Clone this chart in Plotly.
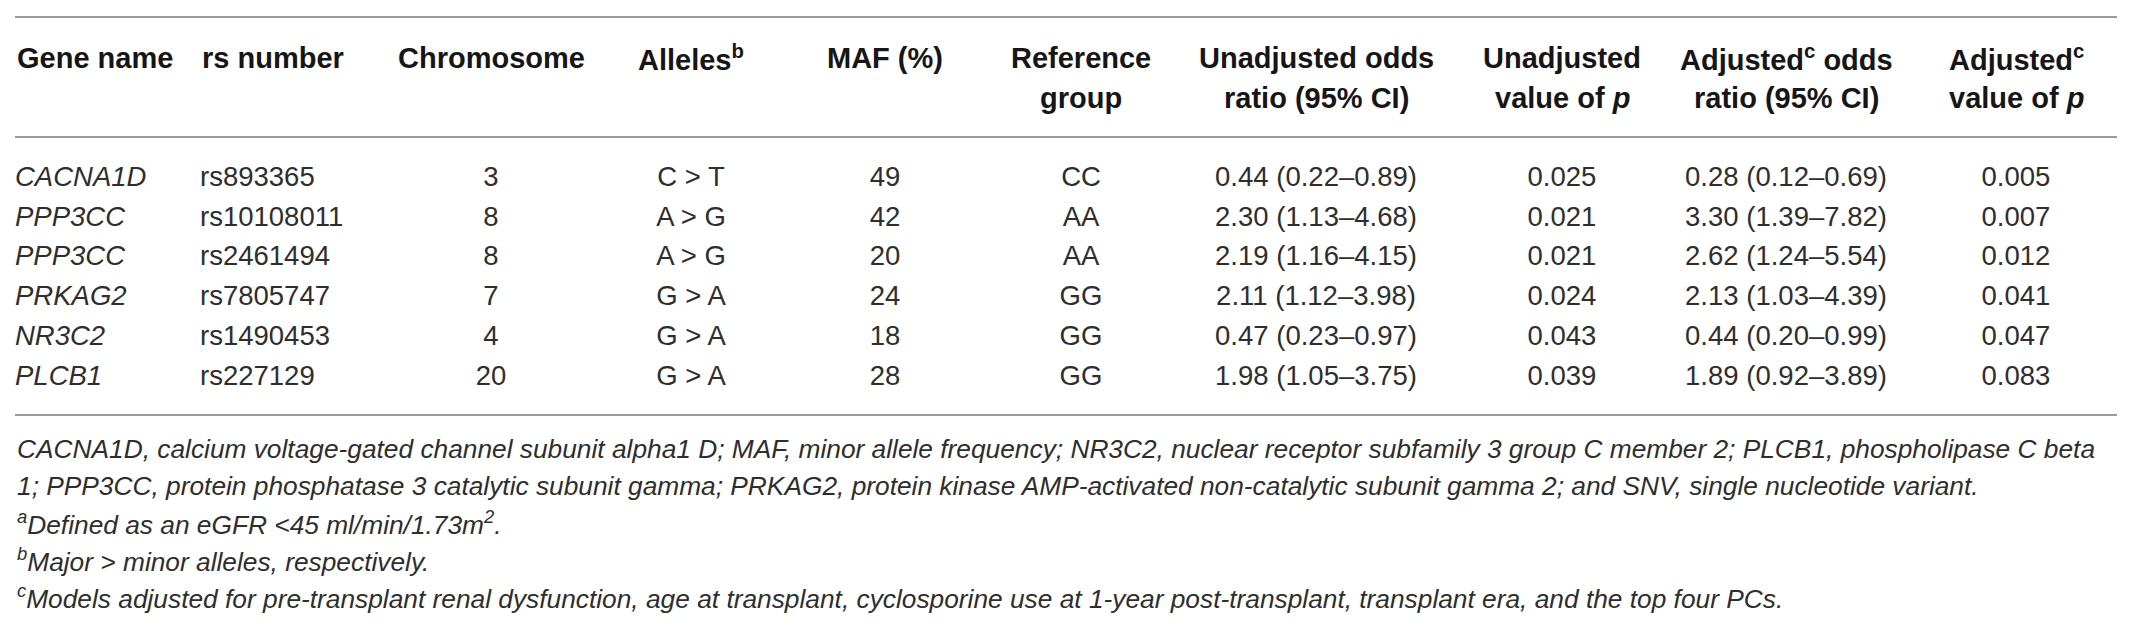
import plotly.graph_objects as go

# ---------------- data ----------------
genes = ["CACNA1D", "PPP3CC", "PPP3CC", "PRKAG2", "NR3C2", "PLCB1"]
rs_numbers = ["rs893365", "rs10108011", "rs2461494", "rs7805747", "rs1490453", "rs227129"]
chromosomes = [3, 8, 8, 7, 4, 20]
alleles = ["C > T", "A > G", "A > G", "G > A", "G > A", "G > A"]
maf_pct = [49, 42, 20, 24, 18, 28]
reference_group = ["CC", "AA", "AA", "GG", "GG", "GG"]
unadj_or = [0.44, 2.30, 2.19, 2.11, 0.47, 1.98]
unadj_lo = [0.22, 1.13, 1.16, 1.12, 0.23, 1.05]
unadj_hi = [0.89, 4.68, 4.15, 3.98, 0.97, 3.75]
unadj_p = [0.025, 0.021, 0.021, 0.024, 0.043, 0.039]
adj_or = [0.28, 3.30, 2.62, 2.13, 0.44, 1.89]
adj_lo = [0.12, 1.39, 1.24, 1.03, 0.20, 0.92]
adj_hi = [0.69, 7.82, 5.54, 4.39, 0.99, 3.89]
adj_p = [0.005, 0.007, 0.012, 0.041, 0.047, 0.083]

header_line1 = ["Gene name", "rs number", "Chromosome", "Alleles<sup>b</sup>", "MAF (%)",
                "Reference", "Unadjusted odds", "Unadjusted", "Adjusted<sup>c</sup> odds",
                "Adjusted<sup>c</sup>"]
header_line2 = ["", "", "", "", "", "group", "ratio (95% CI)", "value of <i>p</i>",
                "ratio (95% CI)", "value of <i>p</i>"]

footnotes = [
    "CACNA1D, calcium voltage-gated channel subunit alpha1 D; MAF, minor allele frequency; "
    "NR3C2, nuclear receptor subfamily 3 group C member 2; PLCB1, phospholipase C beta",
    "1; PPP3CC, protein phosphatase 3 catalytic subunit gamma; PRKAG2, protein kinase "
    "AMP-activated non-catalytic subunit gamma 2; and SNV, single nucleotide variant.",
    "<sup>a</sup>Defined as an eGFR &lt;45 ml/min/1.73m<sup>2</sup>.",
    "<sup>b</sup>Major &gt; minor alleles, respectively.",
    "<sup>c</sup>Models adjusted for pre-transplant renal dysfunction, age at transplant, "
    "cyclosporine use at 1-year post-transplant, transplant era, and the top four PCs.",
]

# ---------------- layout constants (pixels) ----------------
W, H = 2133, 627
col_x = [15, 200, 491, 691, 885, 1081, 1316, 1562, 1786, 2016]
col_left = [True, True, False, False, False, False, False, False, False, False]
row0, row_h = 179, 39.8
head_y1, head_y2 = 58, 98
rule_y = [17, 137, 415]
rule_x0, rule_x1 = 15, 2117
foot_y = [449, 486, 523, 560, 597]

BODY = "Liberation Sans"
body_size = 27.5
head_size = 29
foot_size = 26.3
txt_color = "#2e2e2e"

# ---------------- build cell strings ----------------
columns = [
    [f"<i>{g}</i>" for g in genes],
    rs_numbers,
    [str(c) for c in chromosomes],
    alleles,
    [str(m) for m in maf_pct],
    reference_group,
    [f"{o:.2f} ({l:.2f}–{h:.2f})" for o, l, h in zip(unadj_or, unadj_lo, unadj_hi)],
    [f"{p:.3f}" for p in unadj_p],
    [f"{o:.2f} ({l:.2f}–{h:.2f})" for o, l, h in zip(adj_or, adj_lo, adj_hi)],
    [f"{p:.3f}" for p in adj_p],
]

fig = go.Figure()
n_rows = len(genes)
row_y = [row0 + i * row_h for i in range(n_rows)]

for ci, col in enumerate(columns):
    fig.add_trace(go.Scatter(
        x=[col_x[ci]] * n_rows,
        y=row_y,
        mode="text",
        text=col,
        textposition="middle right" if col_left[ci] else "middle center",
        textfont=dict(family=BODY, size=body_size, color=txt_color),
        hoverinfo="skip",
        showlegend=False,
    ))

# header
for ci in range(len(header_line1)):
    for txt, yy in ((header_line1[ci], head_y1), (header_line2[ci], head_y2)):
        if not txt:
            continue
        fig.add_annotation(
            x=col_x[ci], y=yy, xref="x", yref="y",
            text=f"<b>{txt}</b>", showarrow=False,
            xanchor="left" if col_left[ci] else "center", yanchor="middle",
            font=dict(family=BODY, size=head_size, color="#161616"),
        )

# rules
for ry in rule_y:
    fig.add_shape(type="line", xref="x", yref="y", x0=rule_x0, x1=rule_x1, y0=ry, y1=ry,
                  line=dict(color="#9a9a9a", width=2))

# footnotes
for txt, fy in zip(footnotes, foot_y):
    fig.add_annotation(
        x=rule_x0, y=fy, xref="x", yref="y", text=f"<i>{txt}</i>", showarrow=False,
        xanchor="left", yanchor="middle",
        font=dict(family=BODY, size=foot_size, color=txt_color),
    )

fig.update_layout(
    width=W, height=H,
    margin=dict(l=0, r=0, t=0, b=0),
    paper_bgcolor="white", plot_bgcolor="white",
    xaxis=dict(range=[0, W], visible=False, fixedrange=True),
    yaxis=dict(range=[H, 0], visible=False, fixedrange=True),
    showlegend=False,
    hovermode=False,
)

fig.write_html("out.html", config={"displayModeBar": False, "staticPlot": True},
               post_script="document.body.style.margin='0px';")
